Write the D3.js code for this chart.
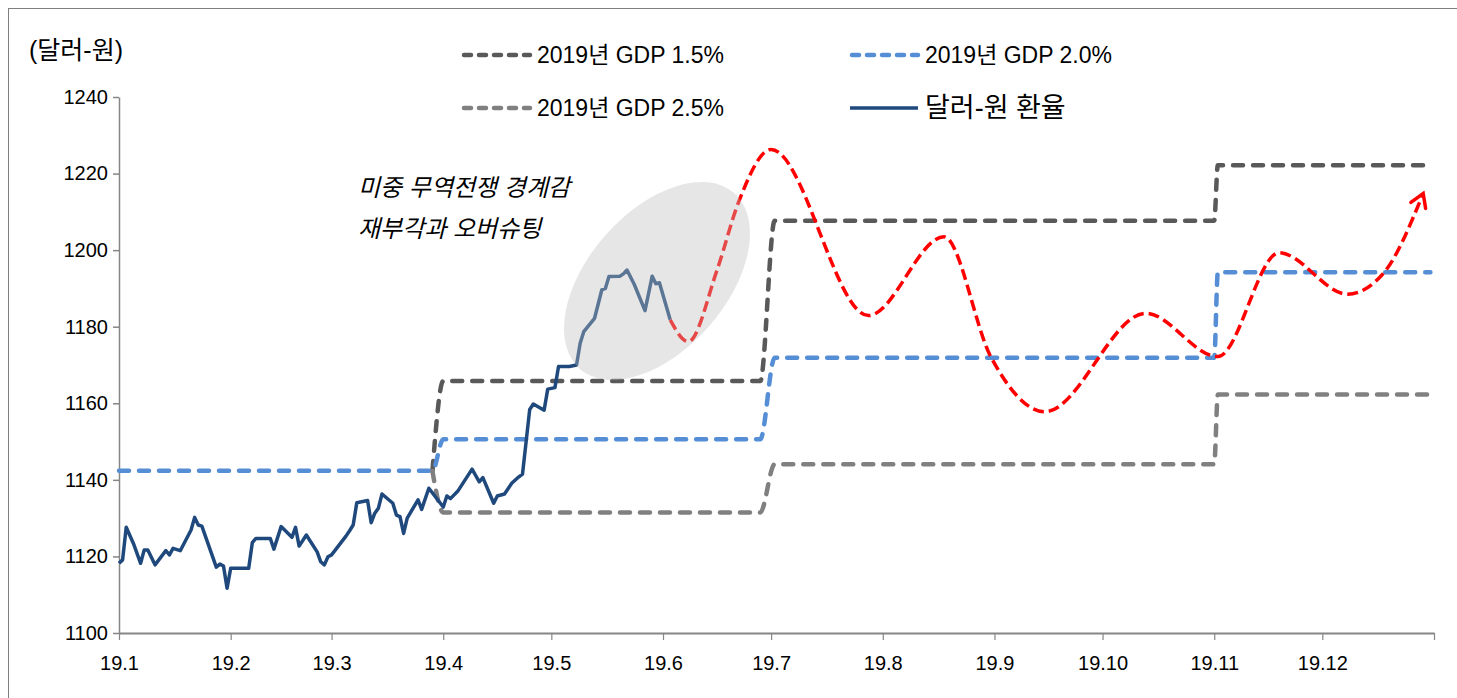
<!DOCTYPE html>
<html><head><meta charset="utf-8">
<script src="https://cdn.jsdelivr.net/npm/d3@7"></script>
<style>
body{margin:0;background:#fff}
svg{display:block}
text{font-family:"Liberation Sans","Noto Sans CJK KR",sans-serif;fill:#000}
</style></head><body>
<svg id="chart" width="1457" height="698"></svg>
<script>
// ---------- data ----------
const yTicks = [1100,1120,1140,1160,1180,1200,1220,1240];
const xTickDates = ["2019-01-01","2019-02-01","2019-03-01","2019-04-01","2019-05-01","2019-06-01","2019-07-01","2019-08-01","2019-09-01","2019-10-01","2019-11-01","2019-12-01","2020-01-01"];
const xTickLabels = ["19.1","19.2","19.3","19.4","19.5","19.6","19.7","19.8","19.9","19.10","19.11","19.12",""];

const fxDates = ["2019-01-01","2019-01-02","2019-01-03","2019-01-05","2019-01-07","2019-01-08","2019-01-09","2019-01-11","2019-01-14","2019-01-15","2019-01-16","2019-01-18","2019-01-21","2019-01-22","2019-01-23","2019-01-24","2019-01-28","2019-01-29","2019-01-30","2019-01-31","2019-02-01","2019-02-06","2019-02-07","2019-02-08","2019-02-12","2019-02-13","2019-02-15","2019-02-18","2019-02-19","2019-02-20","2019-02-22","2019-02-25","2019-02-26","2019-02-27","2019-02-28","2019-03-01","2019-03-05","2019-03-06","2019-03-07","2019-03-08","2019-03-11","2019-03-12","2019-03-13","2019-03-14","2019-03-15","2019-03-18","2019-03-19","2019-03-20","2019-03-21","2019-03-22","2019-03-25","2019-03-26","2019-03-28","2019-04-01","2019-04-02","2019-04-03","2019-04-05","2019-04-09","2019-04-11","2019-04-12","2019-04-15","2019-04-16","2019-04-18","2019-04-20","2019-04-22","2019-04-23","2019-04-25","2019-04-26","2019-04-29","2019-04-30","2019-05-02","2019-05-03","2019-05-06","2019-05-08","2019-05-09","2019-05-10","2019-05-13","2019-05-15","2019-05-16","2019-05-17","2019-05-20","2019-05-21","2019-05-22","2019-05-24","2019-05-27","2019-05-29","2019-05-30","2019-05-31","2019-06-03"];
const fxValues = [1118.2,1119.1,1127.6,1123.4,1118.2,1121.7,1121.7,1117.8,1121.5,1120.4,1122.1,1121.5,1126.9,1130.2,1128.2,1127.9,1117.2,1118.0,1117.5,1111.7,1116.9,1116.9,1123.6,1124.7,1124.7,1121.9,1127.8,1125.0,1127.6,1122.7,1125.6,1121.2,1118.6,1117.8,1119.9,1120.4,1125.3,1126.7,1128.2,1134.0,1134.6,1128.8,1131.3,1132.6,1136.3,1133.9,1130.8,1130.4,1126.0,1130.0,1134.8,1132.3,1137.8,1132.9,1135.8,1135.1,1137.0,1142.8,1139.5,1140.6,1133.9,1135.8,1136.3,1139.1,1140.8,1141.5,1158.4,1159.8,1158.2,1163.7,1164.1,1169.6,1169.6,1170.0,1175.7,1178.7,1182.2,1189.6,1190.0,1193.1,1193.2,1193.8,1194.8,1191.1,1184.2,1193.2,1191.2,1191.5,1181.8];

const fcDates = ["2019-06-03","2019-06-08","2019-06-16","2019-06-22","2019-07-01","2019-07-28","2019-08-18","2019-08-31","2019-09-15","2019-10-13","2019-11-02","2019-11-19","2019-12-08","2019-12-18","2019-12-29"];
const fcValues = [1181.8,1176.1,1194.8,1212.6,1226.3,1182.9,1203.5,1172.1,1157.8,1183.5,1172.2,1199.3,1188.5,1194.0,1214.8];

const g15Dates = ["2019-03-29","2019-04-01","2019-06-28","2019-07-02","2019-11-01","2019-11-02","2019-12-31"];
const g15Values = [1142.3,1165.8,1165.8,1207.7,1207.7,1222.2,1222.2];
const g20Dates = ["2019-01-01","2019-03-29","2019-04-01","2019-06-28","2019-07-02","2019-11-01","2019-11-02","2019-12-31"];
const g20Values = [1142.4,1142.4,1150.6,1150.6,1171.9,1171.9,1194.2,1194.2];
const g25Dates = ["2019-03-29","2019-04-01","2019-06-28","2019-07-02","2019-11-01","2019-11-02","2019-12-31"];
const g25Values = [1142.3,1131.5,1131.5,1144.1,1144.1,1162.3,1162.3];

const legendNames = ["2019년 GDP 1.5%","2019년 GDP 2.0%","2019년 GDP 2.5%","달러-원 환율"];
const annotationLines = ["미중 무역전쟁 경계감","재부각과 오버슈팅"];
const yTitle = "(달러-원)";

// ---------- drawing ----------
const parse = d3.timeParse("%Y-%m-%d");
const zip = (ds, vs) => ds.map((d,i)=>({date:parse(d), value:vs[i]}));
const fx = zip(fxDates, fxValues), fc = zip(fcDates, fcValues);
const g15 = zip(g15Dates,g15Values), g20 = zip(g20Dates,g20Values), g25 = zip(g25Dates,g25Values);

const svg = d3.select("#chart");
const x = d3.scaleTime().domain([parse("2019-01-01"), parse("2020-01-01")]).range([119,1434]);
const y = d3.scaleLinear().domain([1100,1240]).range([633,97]);

// frame
svg.append("rect").attr("x",8.5).attr("y",8.5).attr("width",1500).attr("height",720)
  .attr("fill","none").attr("stroke","#7f7f7f").attr("stroke-width",1);

// axes
const yAxis = svg.append("g").attr("transform","translate(119,0)")
  .call(d3.axisLeft(y).tickValues(yTicks).tickSize(6).tickSizeOuter(0).tickPadding(5).tickFormat(d3.format("d")));
yAxis.select(".domain").attr("stroke","#868686").attr("stroke-width",1.5);
yAxis.selectAll(".tick line").attr("stroke","#868686").attr("stroke-width",1.5);
yAxis.selectAll("text").attr("font-size",20).attr("fill","#000").style("font-family",'"Liberation Sans",sans-serif');

const xAxis = svg.append("g").attr("transform","translate(0,633)")
  .call(d3.axisBottom(x).tickValues(xTickDates.map(parse)).tickSize(7).tickSizeOuter(0).tickPadding(16)
    .tickFormat((d,i)=>xTickLabels[i]));
xAxis.select(".domain").attr("stroke","#868686").attr("stroke-width",2);
xAxis.selectAll(".tick line").attr("stroke","#868686").attr("stroke-width",1.2);
xAxis.selectAll("text").attr("font-size",20).attr("fill","#000").style("font-family",'"Liberation Sans",sans-serif');

// lines
const lineStep = d3.line().x(d=>x(d.date)).y(d=>y(d.value)).curve(d3.curveMonotoneX);
const scen = [
  {data:g15, color:"#595959"},
  {data:g20, color:"#558ED5"},
  {data:g25, color:"#808080"}
];
scen.forEach(s=>{
  svg.append("path").datum(s.data).attr("d",lineStep).attr("fill","none")
    .attr("stroke",s.color).attr("stroke-width",4.5).attr("stroke-linecap","round")
    .attr("stroke-dasharray","10,10");
});

const lineFx = d3.line().x(d=>x(d.date)).y(d=>y(d.value));
svg.append("path").datum(fx).attr("d",lineFx).attr("fill","none")
  .attr("stroke","#1F497D").attr("stroke-width",3.5).attr("stroke-linejoin","round");

// arrow marker
const defs = svg.append("defs");
defs.append("marker").attr("id","arr").attr("markerUnits","userSpaceOnUse")
  .attr("viewBox","-16 -10 20 20").attr("refX",0).attr("refY",0)
  .attr("markerWidth",20).attr("markerHeight",20).attr("orient","auto")
  .append("path").attr("d","M-13,-8 L0,0 L-13,8").attr("fill","none")
  .attr("stroke","#FF0000").attr("stroke-width",3.5).attr("stroke-dasharray","none")
  .attr("stroke-linecap","round").attr("stroke-linejoin","miter");

const lineFc = d3.line().x(d=>x(d.date)).y(d=>y(d.value)).curve(d3.curveMonotoneX);
svg.append("path").datum(fc).attr("d",lineFc).attr("fill","none")
  .attr("stroke","#FF0000").attr("stroke-width",3.5).attr("stroke-dasharray","11,5")
  .attr("marker-end","url(#arr)");

// ellipse overlay
svg.append("ellipse").attr("transform","translate(657,281) rotate(-48.7)")
  .attr("rx",117).attr("ry",69).attr("fill","#BDBDBD").attr("fill-opacity",0.38);

// annotation
const ann = svg.append("text").attr("x",358).attr("y",196).attr("font-size",24)
  .attr("font-style","italic").attr("fill","#262626");
annotationLines.forEach((t,i)=>{
  ann.append("tspan").attr("x",358).attr("dy", i===0?0:41).text(t);
});

// y title
svg.append("text").attr("x",29).attr("y",59).attr("font-size",25).text(yTitle);

// legend
const legendStyles = [
  {color:"#595959", dash:"7,8", width:4.5, cap:"round"},
  {color:"#558ED5", dash:"7,8", width:4.5, cap:"round"},
  {color:"#808080", dash:"7,8", width:4.5, cap:"round"},
  {color:"#1F497D", dash:null, width:3.5, cap:"butt"}
];
const legCols = [462, 850], legRows = [55, 108];
legendNames.forEach((name,i)=>{
  const cx = legCols[i%2], cy = legRows[Math.floor(i/2)];
  const st = legendStyles[i];
  const ln = svg.append("line").attr("x1",cx+ (st.dash?2:0)).attr("x2",cx+68).attr("y1",cy).attr("y2",cy)
    .attr("stroke",st.color).attr("stroke-width",st.width).attr("stroke-linecap",st.cap);
  if(st.dash) ln.attr("stroke-dasharray",st.dash);
  svg.append("text").attr("x",cx+75).attr("y",cy).attr("dy","0.35em")
    .attr("font-size", i===3?27:23).text(name);
});
</script>
</body></html>
